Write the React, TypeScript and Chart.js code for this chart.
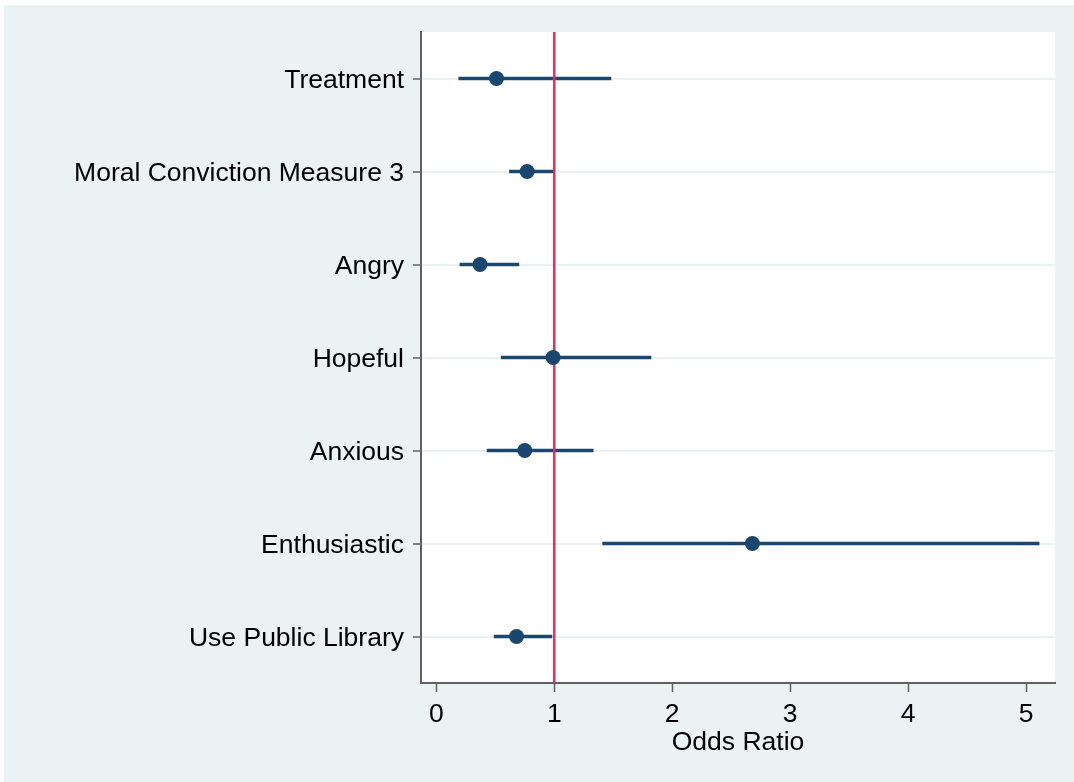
import React, { useEffect, useRef } from "react";
import { Chart, registerables } from "chart.js";

Chart.register(...registerables);

const categories = [
  "Treatment",
  "Moral Conviction Measure 3",
  "Angry",
  "Hopeful",
  "Anxious",
  "Enthusiastic",
  "Use Public Library",
];
const oddsRatio = [0.51, 0.77, 0.37, 0.99, 0.75, 2.68, 0.68];
const ciLower = [0.19, 0.62, 0.2, 0.55, 0.43, 1.41, 0.49];
const ciUpper = [1.48, 1.0, 0.7, 1.82, 1.33, 5.11, 0.98];
const xTickValues = [0, 1, 2, 3, 4, 5];
const referenceValue = 1;
const xTitle = "Odds Ratio";

const FONT = "'Liberation Sans', Arial, Helvetica, sans-serif";
const NAVY = "#1A476F";
const PANEL = "#EAF2F3";
const AXIS = "#606060";

export default function App() {
  const ref = useRef<HTMLCanvasElement | null>(null);

  useEffect(() => {
    const canvas = ref.current;
    if (!canvas) return;

    const backgroundPlugin = {
      id: "stataBackground",
      beforeDraw(chart: any) {
        const { ctx, width, height, chartArea } = chart;
        ctx.save();
        ctx.fillStyle = "#FFFFFF";
        ctx.fillRect(0, 0, width, height);
        ctx.fillStyle = PANEL;
        ctx.fillRect(4, 5, width - 4, height - 5);
        ctx.fillStyle = "#FFFFFF";
        ctx.fillRect(
          chartArea.left,
          chartArea.top,
          chartArea.right - chartArea.left,
          chartArea.bottom - chartArea.top
        );
        ctx.restore();
      },
    };

    const refLinePlugin = {
      id: "refLine",
      afterDatasetDraw(chart: any, args: any) {
        if (args.index !== 0) return;
        const { ctx, chartArea } = chart;
        const x = chart.scales.x.getPixelForValue(referenceValue);
        ctx.save();
        ctx.strokeStyle = "#D8345B";
        ctx.lineWidth = 2.5;
        ctx.beginPath();
        ctx.moveTo(x, chartArea.top);
        ctx.lineTo(x, chartArea.bottom);
        ctx.stroke();
        ctx.restore();
      },
    };

    const chart = new Chart(canvas, {
      type: "bar",
      data: {
        labels: categories,
        datasets: [
          {
            type: "bar",
            data: ciLower.map((lo, i) => [lo, ciUpper[i]]) as any,
            backgroundColor: NAVY,
            borderWidth: 0,
            barThickness: 3,
            order: 2,
          },
          {
            type: "line",
            data: oddsRatio as any,
            indexAxis: "y",
            showLine: false,
            pointRadius: 7.5,
            pointBackgroundColor: NAVY,
            pointBorderColor: NAVY,
            pointBorderWidth: 0,
            order: 1,
          } as any,
        ],
      },
      options: {
        indexAxis: "y",
        responsive: false,
        animation: false,
        layout: { padding: { top: 32, right: 19, left: 0, bottom: 0 } },
        plugins: {
          legend: { display: false },
          tooltip: { enabled: false },
        },
        scales: {
          x: {
            type: "linear",
            position: "bottom",
            min: -0.13,
            max: 5.245,
            afterBuildTicks: (scale: any) => {
              scale.ticks = xTickValues.map((v) => ({ value: v }));
            },
            afterFit: (scale: any) => {
              scale.height = 99;
            },
            grid: {
              drawOnChartArea: false,
              drawTicks: true,
              tickLength: 9,
              tickColor: AXIS,
              tickWidth: 1.5,
            },
            border: { display: true, color: AXIS, width: 2 },
            ticks: {
              color: "#000",
              padding: 7,
              font: { family: FONT, size: 26.5 },
              callback: (v: any) => String(v),
            },
            title: {
              display: true,
              text: xTitle,
              color: "#000",
              font: { family: FONT, size: 26.5 },
              padding: { top: 0, bottom: 23 },
            },
          },
          y: {
            type: "category",
            position: "left",
            offset: true,
            afterFit: (scale: any) => {
              scale.width = 421;
            },
            grid: {
              offset: false,
              color: PANEL,
              lineWidth: 2,
              drawTicks: true,
              tickLength: 8,
              tickColor: AXIS,
              tickWidth: 1.5,
            },
            border: { display: true, color: AXIS, width: 2 },
            ticks: {
              color: "#000",
              padding: 9,
              labelOffset: 2,
              font: { family: FONT, size: 26.5 },
            },
          },
        },
      },
      plugins: [backgroundPlugin, refLinePlugin],
    } as any);

    return () => chart.destroy();
  }, []);

  return (
    <div style={{ position: "absolute", left: 0, top: 0, width: 1074, height: 782 }}>
      <canvas ref={ref} width={1074} height={782} />
    </div>
  );
}
